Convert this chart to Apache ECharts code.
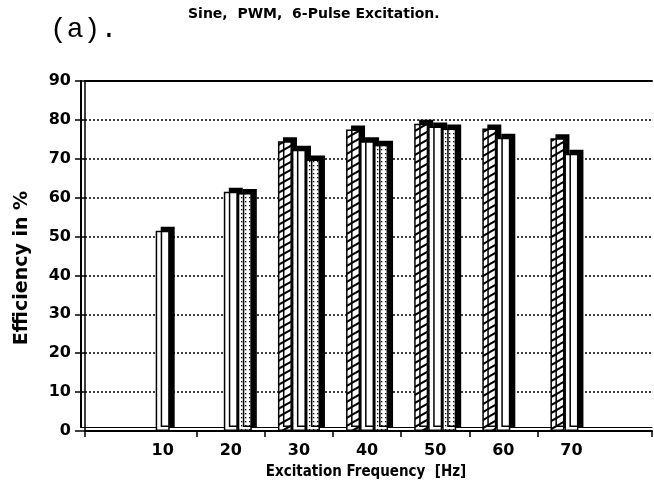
<!DOCTYPE html>
<html>
<head>
<meta charset="UTF-8">
<script src="https://cdn.jsdelivr.net/npm/echarts@6/dist/echarts.min.js"></script>
<style type="text/css">
html, body { margin: 0; padding: 0; background: #fff; }
#main { width: 654px; height: 486px; }
</style>
</head>
<body>
<div id="main"></div>
<script type="text/javascript">
// excitation frequencies (Hz) and efficiencies in %
var freqLabels = ['10', '20', '30', '40', '50', '60', '70'];
var sineVals   = [null, null, 74.5, 77.5, 79.0, 77.8, 75.3];
var pwmVals    = [51.5, 61.5, 72.3, 74.5, 78.3, 75.4, 71.3];
var pulseVals  = [null, 61.2, 69.8, 73.6, 77.8, null, null];
var yMin = 0, yMax = 90, yStep = 10;
// floor ticks sit between the frequency groups (in Hz)
var floorTicks = [-1.4, 15, 25, 35, 45, 55, 65, 81.8];

// the chart has an empty slot left of 10 Hz
var cats = [''].concat(freqLabels);
function pad(arr) { return [null].concat(arr); }

// fill patterns: diagonal hatch and dots
function hatch() {
	var c = document.createElement('canvas');
	c.width = 14; c.height = 8;
	var g = c.getContext('2d');
	g.fillStyle = '#fff'; g.fillRect(0, 0, 14, 8);
	g.strokeStyle = '#000'; g.lineWidth = 2;
	g.beginPath();
	g.moveTo(0, 8); g.lineTo(14, 0);
	g.moveTo(-14, 8); g.lineTo(0, 0);
	g.moveTo(14, 8); g.lineTo(28, 0);
	g.moveTo(0, 16); g.lineTo(14, 8);
	g.moveTo(0, 0); g.lineTo(14, -8);
	g.stroke();
	return c;
}
function dots() {
	var c = document.createElement('canvas');
	c.width = 4; c.height = 4;
	var g = c.getContext('2d');
	g.fillStyle = '#fff'; g.fillRect(0, 0, 4, 4);
	g.fillStyle = '#000';
	g.fillRect(1, 1, 1.3, 1.3);
	return c;
}

var font = 'DejaVu Sans';
var barStyle = function (fill) {
	return {
		color: fill,
		borderColor: '#000',
		borderWidth: 1.5,
		shadowColor: '#000',
		shadowBlur: 0,
		shadowOffsetX: 5,
		shadowOffsetY: -4
	};
};
var lineOnly = function (w) {
	return {
		axisLine: { show: true, onZero: false, lineStyle: { color: '#000', width: w } },
		axisTick: { show: false }, axisLabel: { show: false }, splitLine: { show: false }
	};
};

var myChart = echarts.init(document.getElementById('main'));
var option = {
	animation: false,
	backgroundColor: '#fff',
	graphic: [
		{ type: 'text', left: 50, top: 16, style: { text: '(a).', font: '28px "Liberation Mono"', fill: '#000' } },
		{ type: 'text', left: 188, top: 7, style: { text: 'Sine,  PWM,  6-Pulse Excitation.', font: 'bold 14px "DejaVu Sans"', fill: '#000' } },
		{ type: 'text', x: 22, y: 268, rotation: Math.PI / 2,
		  style: { text: 'Efficiency in %', font: 'bold 19px "DejaVu Sans"', fill: '#000', align: 'center', verticalAlign: 'middle' } },
		{ type: 'text', x: 366, y: 472,
		  style: { text: 'Excitation Frequency  [Hz]', font: 'bold 15px "DejaVu Sans Condensed"', fill: '#000', align: 'center', verticalAlign: 'middle' } }
	],
	grid: [
		{ left: 85, right: 2, top: 81, bottom: 55 },
		{ left: 60.5, width: 545, top: 81, bottom: 55 },
		{ left: 81, right: 2, top: 81, bottom: 59 }
	],
	xAxis: [
		{ gridIndex: 0, type: 'value', min: floorTicks[0], max: floorTicks[floorTicks.length - 1],
		  axisLine: { show: true, onZero: false, lineStyle: { color: '#000', width: 2 } },
		  axisTick: { show: true, length: 6, customValues: floorTicks, lineStyle: { color: '#000', width: 1.5 } },
		  axisLabel: { show: false }, splitLine: { show: false } },
		Object.assign({ gridIndex: 0, type: 'value', min: 0, max: 1, position: 'top' }, lineOnly(2)),
		{ gridIndex: 1, type: 'category', data: cats,
		  axisLine: { show: false }, axisTick: { show: false },
		  axisLabel: { color: '#000', fontFamily: font, fontWeight: 'bold', fontSize: 16, margin: 12 } },
		Object.assign({ gridIndex: 2, type: 'value', min: 0, max: 1, position: 'bottom' }, lineOnly(1))
	],
	yAxis: [
		{ gridIndex: 0, type: 'value', min: yMin, max: yMax, interval: yStep,
		  axisLine: { show: true, onZero: false, lineStyle: { color: '#000', width: 1.5 } },
		  axisTick: { show: true, length: 10, lineStyle: { color: '#000', width: 1.5 } },
		  axisLabel: { color: '#000', fontFamily: font, fontWeight: 'bold', fontSize: 16, margin: 14 },
		  splitLine: { show: true, lineStyle: { color: '#000', width: 1.5, type: [2, 2] } } },
		{ gridIndex: 1, type: 'value', min: yMin, max: yMax, interval: yStep, show: false },
		Object.assign({ gridIndex: 2, type: 'value', min: 0, max: 1, position: 'left' }, lineOnly(2))
	],
	series: [
		{ name: 'Sine', type: 'bar', xAxisIndex: 2, yAxisIndex: 1, data: pad(sineVals),
		  barWidth: 14, barGap: '0%', itemStyle: barStyle({ image: hatch(), repeat: 'repeat' }) },
		{ name: 'PWM', type: 'bar', xAxisIndex: 2, yAxisIndex: 1, data: pad(pwmVals),
		  barWidth: 14, barGap: '0%', itemStyle: barStyle('#fff') },
		{ name: '6-Pulse', type: 'bar', xAxisIndex: 2, yAxisIndex: 1, data: pad(pulseVals),
		  barWidth: 14, barGap: '0%', itemStyle: barStyle({ image: dots(), repeat: 'repeat' }) }
	]
};
myChart.setOption(option);
</script>
</body>
</html>
